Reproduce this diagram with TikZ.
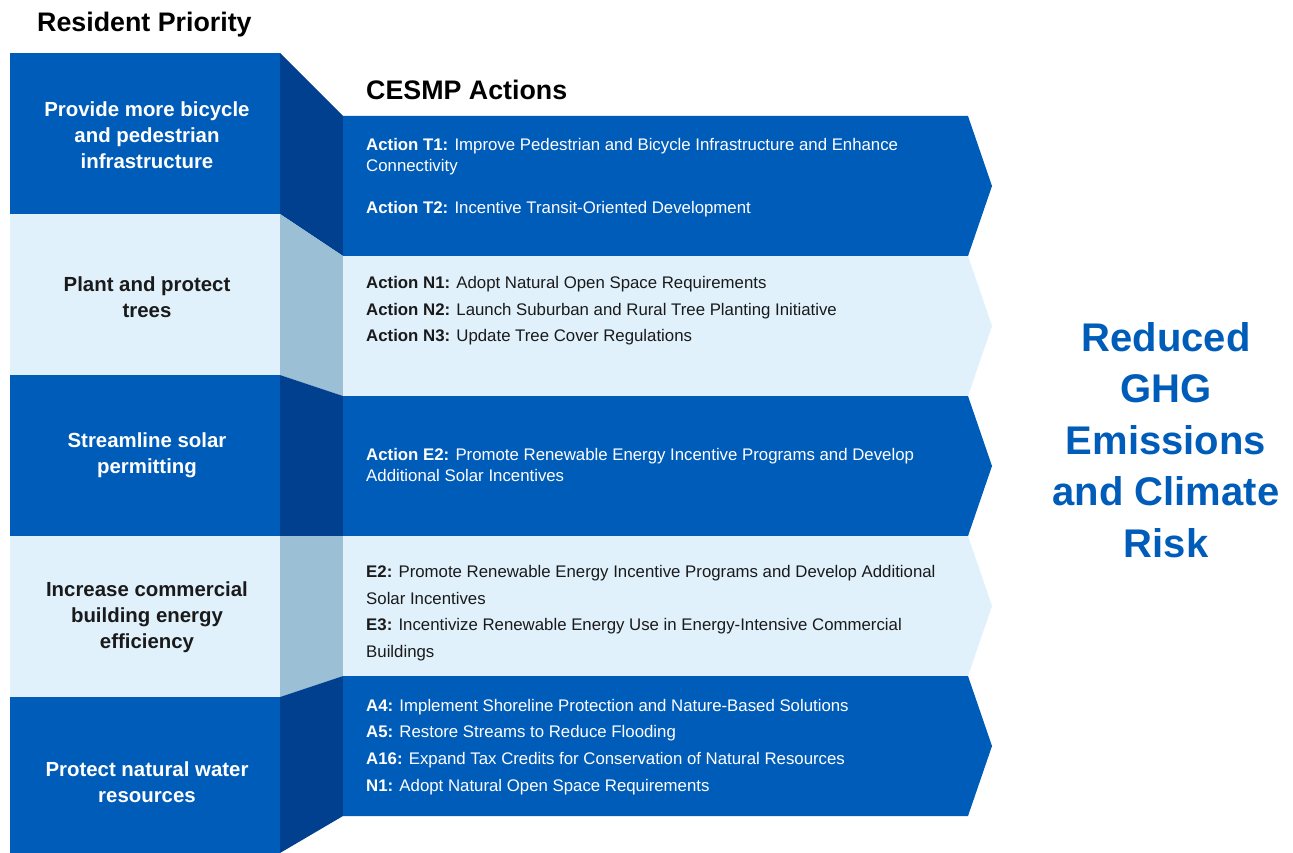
\documentclass[tikz,border=0pt]{standalone}
\usepackage{fontspec}
\setmainfont{Liberation Sans}
\definecolor{mainblue}{HTML}{005CB9}
\definecolor{darkblue}{HTML}{00408F}
\definecolor{lightblue}{HTML}{E0F1FC}
\definecolor{greyblue}{HTML}{9BBFD4}
\definecolor{txt}{HTML}{1A1A1A}
\tikzset{
  lefttext/.style={align=center, font=\fontsize{20.4}{26}\selectfont\bfseries, inner sep=0pt},
  acttext/.style={anchor=mid west, font=\fontsize{16.8}{21}\selectfont, inner sep=0pt},
  head/.style={anchor=mid west, font=\fontsize{26.8}{30}\selectfont\bfseries, inner sep=0pt, text=black},
}
\begin{document}
\begin{tikzpicture}[x=1pt,y=-1pt]
\clip (0,0) rectangle (1293,853);
\fill[white] (0,0) rectangle (1293,853);
% left boxes
\fill[mainblue] (10,53) rectangle (280,214);
\fill[lightblue] (10,214) rectangle (280,375);
\fill[mainblue] (10,375) rectangle (280,536);
\fill[lightblue] (10,536) rectangle (280,697);
\fill[mainblue] (10,697) rectangle (280,860);
% connector bands
\fill[darkblue] (280,53) -- (343,116) -- (343,256) -- (280,214) -- cycle;
\fill[greyblue] (280,214) -- (343,256) -- (343,396) -- (280,375) -- cycle;
\fill[darkblue] (280,375) -- (343,396) -- (343,536) -- (280,536) -- cycle;
\fill[greyblue] (280,536) -- (343,536) -- (343,676) -- (280,697) -- cycle;
\fill[darkblue] (280,697) -- (343,676) -- (343,816) -- (280,853) -- (280,860) -- cycle;
% right arrows
\fill[mainblue] (343,116) -- (968,116) -- (992,186) -- (968,256) -- (343,256) -- cycle;
\fill[lightblue] (343,256) -- (968,256) -- (992,326) -- (968,396) -- (343,396) -- cycle;
\fill[mainblue] (343,396) -- (968,396) -- (992,466) -- (968,536) -- (343,536) -- cycle;
\fill[lightblue] (343,536) -- (968,536) -- (992,606) -- (968,676) -- (343,676) -- cycle;
\fill[mainblue] (343,676) -- (968,676) -- (992,746) -- (968,816) -- (343,816) -- cycle;
% headings
\node[head] (h1) at (37,29) {Resident Priority};
\node[head] (h2) at (366,97) {CESMP Actions};
% left texts
\node[lefttext, text=white] (p1) at (147,135) {Provide more bicycle\\and pedestrian\\infrastructure};
\node[lefttext, text=txt] (p2) at (147,297) {Plant and protect\\trees};
\node[lefttext, text=white] (p3) at (147,455) {Streamline solar\\permitting};
\node[lefttext, text=txt] (p4) at (147,617) {Increase commercial\\building energy\\efficiency};
\node[lefttext, text=white] (p5) at (147,782) {Protect natural water\\resources};
% actions
\begin{scope}[every node/.append style={acttext}]
\node[text=white] (a1) at (366,148) {\textbf{Action T1:} Improve Pedestrian and Bicycle Infrastructure and Enhance};
\node[text=white] (a1b) at (366,169) {Connectivity};
\node[text=white] (a2) at (366,211) {\textbf{Action T2:} Incentive Transit-Oriented Development};
\node[text=txt] (n1) at (366,286) {\textbf{Action N1:} Adopt Natural Open Space Requirements};
\node[text=txt] (n2) at (366,313) {\textbf{Action N2:} Launch Suburban and Rural Tree Planting Initiative};
\node[text=txt] (n3) at (366,339) {\textbf{Action N3:} Update Tree Cover Regulations};
\node[text=white] (e2) at (366,458) {\textbf{Action E2:} Promote Renewable Energy Incentive Programs and Develop};
\node[text=white] (e2b) at (366,479) {Additional Solar Incentives};
\node[text=txt] (c1) at (366,575) {\textbf{E2:} Promote Renewable Energy Incentive Programs and Develop Additional};
\node[text=txt] (c1b) at (366,602) {Solar Incentives};
\node[text=txt] (c2) at (366,628) {\textbf{E3:} Incentivize Renewable Energy Use in Energy-Intensive Commercial};
\node[text=txt] (c2b) at (366,655) {Buildings};
\node[text=white] (w1) at (366,709) {\textbf{A4:} Implement Shoreline Protection and Nature-Based Solutions};
\node[text=white] (w2) at (366,735) {\textbf{A5:} Restore Streams to Reduce Flooding};
\node[text=white] (w3) at (366,762) {\textbf{A16:} Expand Tax Credits for Conservation of Natural Resources};
\node[text=white] (w4) at (366,789) {\textbf{N1:} Adopt Natural Open Space Requirements};
\end{scope}
% outcome
\node[align=center, text=mainblue, font=\fontsize{40}{51.5}\selectfont\bfseries, inner sep=0pt] (out) at (1166,440) {Reduced\\GHG\\Emissions\\and Climate\\Risk};
\end{tikzpicture}
\end{document}
